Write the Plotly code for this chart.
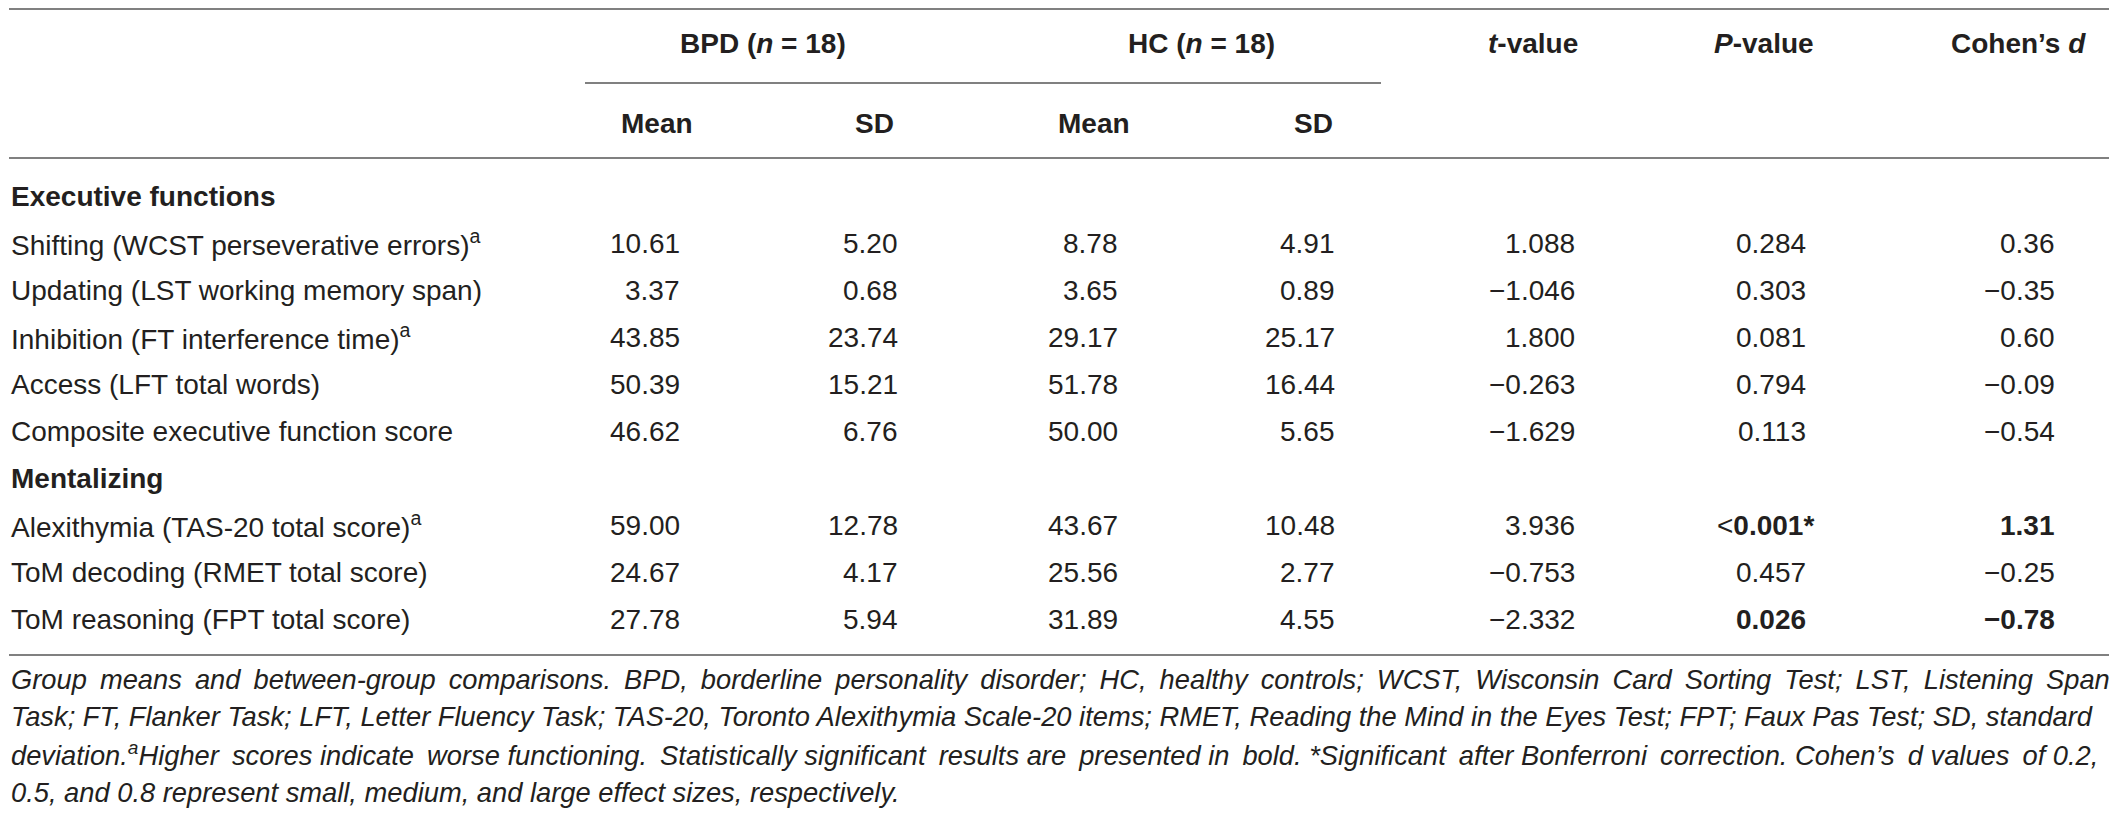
import plotly.graph_objects as go

# table content
measures = [
    "Shifting (WCST perseverative errors)<sup>a</sup>",
    "Updating (LST working memory span)",
    "Inhibition (FT interference time)<sup>a</sup>",
    "Access (LFT total words)",
    "Composite executive function score",
    "Alexithymia (TAS-20 total score)<sup>a</sup>",
    "ToM decoding (RMET total score)",
    "ToM reasoning (FPT total score)",
]
sections = ["Executive functions", "Mentalizing"]
section_starts = [0, 5]

bpd_mean = ["10.61", "3.37", "43.85", "50.39", "46.62", "59.00", "24.67", "27.78"]
bpd_sd = ["5.20", "0.68", "23.74", "15.21", "6.76", "12.78", "4.17", "5.94"]
hc_mean = ["8.78", "3.65", "29.17", "51.78", "50.00", "43.67", "25.56", "31.89"]
hc_sd = ["4.91", "0.89", "25.17", "16.44", "5.65", "10.48", "2.77", "4.55"]
t_value = ["1.088", "\u22121.046", "1.800", "\u22120.263", "\u22121.629", "3.936", "\u22120.753", "\u22122.332"]
p_value = ["0.284", "0.303", "0.081", "0.794", "0.113", "<<b>0.001*</b>", "0.457", "<b>0.026</b>"]
cohens_d = ["0.36", "\u22120.35", "0.60", "\u22120.09", "\u22120.54", "<b>1.31</b>", "\u22120.25", "<b>\u22120.78</b>"]

group_headers = ["<b>BPD (<i>n</i> = 18)</b>", "<b>HC (<i>n</i> = 18)</b>"]
sub_headers = ["<b>Mean</b>", "<b>SD</b>", "<b>Mean</b>", "<b>SD</b>"]
stat_headers = ["<b><i>t</i>-value</b>", "<b><i>P</i>-value</b>", "<b>Cohen\u2019s <i>d</i></b>"]

caption = [
    "Group means and between-group comparisons. BPD, borderline personality disorder; HC, healthy controls; "
    "WCST, Wisconsin Card Sorting Test; LST, Listening Span",
    "Task; FT, Flanker Task; LFT, Letter Fluency Task; TAS-20, Toronto Alexithymia Scale-20 items; "
    "RMET, Reading the Mind in the Eyes Test; FPT; Faux Pas Test; SD, standard",
    "deviation.<sup>a</sup>Higher scores indicate worse functioning. Statistically significant results are "
    "presented in bold. *Significant after Bonferroni correction. Cohen\u2019s d values of 0.2,",
    "0.5, and 0.8 represent small, medium, and large effect sizes, respectively.",
]
# rough justification of the caption: widen every n-th word gap (0 = leave as is)
caption_stretch = [1, 0, 2, 0]

W, H = 2118, 816
PAD = 8  # default body margin of the html page
FONT = "Liberation Sans, Arial, sans-serif"
INK = "#231f20"
RULE = "#808080"
FS = 28

# layout (page pixels)
LEFT = PAD + 1
col_right = [682, 900, 1120, 1337, 1577, 1808, 2057]
group_x = [763, 1201]
sub_x = [657, 874, 1094, 1313]
stat_x = [1533, 1764, 2018]
row_dy = 47

fig = go.Figure()
ann = []


def txt(x, y, s, anchor="left", size=FS, italic=False):
    ann.append(dict(x=x, y=y, text=s, showarrow=False, xanchor=anchor, yanchor="middle",
                    font=dict(family=FONT, size=size, color=INK,
                              style="italic" if italic else "normal")))


def stretch(line, every):
    if not every:
        return line
    words = line.split(" ")
    out = words[0]
    for j, w in enumerate(words[1:]):
        out += (" \u2009" if j % every == 0 else " ") + w
    return out


for s, x in zip(group_headers, group_x):
    txt(x, 43, s, "center")
for s, x in zip(stat_headers, stat_x):
    txt(x, 43, s, "center")
for s, x in zip(sub_headers, sub_x):
    txt(x, 123, s, "center")

# rows, with section headings inserted
y = 196
row_ys = []
for i in range(len(measures)):
    if i in section_starts:
        txt(LEFT, y, "<b>" + sections[section_starts.index(i)] + "</b>")
        y += row_dy
    row_ys.append(y)
    y += row_dy

columns = [bpd_mean, bpd_sd, hc_mean, hc_sd, t_value, p_value, cohens_d]
for i, ry in enumerate(row_ys):
    txt(LEFT, ry, measures[i])
    for col, xr in zip(columns, col_right):
        s = col[i]
        shift = 8 if s.endswith("*</b>") else 0
        txt(xr + shift, ry, s, "right")

for k, line in enumerate(caption):
    txt(LEFT, 679 + k * 37.7, stretch(line, caption_stretch[k]), italic=True, size=27.3)

fig.update_layout(annotations=ann)

# horizontal rules
rules = [(LEFT, 2109, 9), (585, 1381, 83), (LEFT, 2109, 158), (LEFT, 2109, 655)]
for x0, x1, yy in rules:
    fig.add_shape(type="line", x0=x0, x1=x1, y0=yy, y1=yy, line=dict(color=RULE, width=2))

fig.update_xaxes(range=[PAD, W - PAD], visible=False)
fig.update_yaxes(range=[H - PAD, PAD], visible=False)
fig.update_layout(width=W - 2 * PAD, height=H - 2 * PAD, margin=dict(l=0, r=0, t=0, b=0),
                  plot_bgcolor="white", paper_bgcolor="white", showlegend=False)

fig.write_html("out.html")
